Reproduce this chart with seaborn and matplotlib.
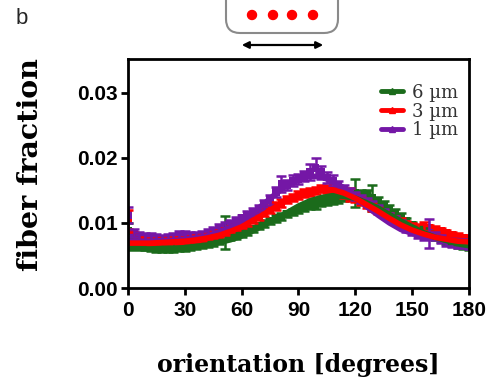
import numpy as np
import pandas as pd
import matplotlib.pyplot as plt
import seaborn as sns
from matplotlib.patches import FancyBboxPatch, Circle, FancyArrowPatch
from matplotlib.lines import Line2D

# orientation bins (degrees)
deg = list(range(0, 181, 3))

frac_6um = [0.0088, 0.0070, 0.0065, 0.0063, 0.0062, 0.0061, 0.0061, 0.0060, 0.0061, 0.0062,
            0.0062, 0.0063, 0.0065, 0.0066, 0.0068, 0.0070, 0.0073, 0.0085, 0.0079, 0.0081,
            0.0084, 0.0087, 0.0091, 0.0095, 0.0099, 0.0103, 0.0107, 0.0110, 0.0114, 0.0117,
            0.0120, 0.0123, 0.0126, 0.0128, 0.0131, 0.0132, 0.0134, 0.0136, 0.0139, 0.0142,
            0.0146, 0.0143, 0.0145, 0.0139, 0.0134, 0.0128, 0.0122, 0.0116, 0.0110, 0.0103,
            0.0097, 0.0091, 0.0087, 0.0083, 0.0079, 0.0075, 0.0072, 0.0069, 0.0067, 0.0065,
            0.0063]
err_6um = [0.0012, 0.0006, 0.0005, 0.0005, 0.0005, 0.0005, 0.0005, 0.0005, 0.0005, 0.0005,
           0.0005, 0.0005, 0.0005, 0.0005, 0.0005, 0.0005, 0.0005, 0.0025, 0.0005, 0.0005,
           0.0005, 0.0005, 0.0005, 0.0005, 0.0005, 0.0005, 0.0006, 0.0005, 0.0005, 0.0005,
           0.0005, 0.0005, 0.0005, 0.0006, 0.0005, 0.0005, 0.0005, 0.0006, 0.0006, 0.0006,
           0.0022, 0.0008, 0.0006, 0.0020, 0.0006, 0.0006, 0.0005, 0.0005, 0.0005, 0.0005,
           0.0005, 0.0005, 0.0005, 0.0005, 0.0005, 0.0005, 0.0005, 0.0005, 0.0005, 0.0005,
           0.0005]

frac_3um = [0.0105, 0.0080, 0.0074, 0.0072, 0.0071, 0.0072, 0.0073, 0.0072, 0.0074, 0.0073,
            0.0074, 0.0075, 0.0076, 0.0078, 0.0080, 0.0082, 0.0084, 0.0087, 0.0091, 0.0094,
            0.0097, 0.0101, 0.0106, 0.0111, 0.0116, 0.0121, 0.0126, 0.0131, 0.0136, 0.0139,
            0.0143, 0.0146, 0.0148, 0.0150, 0.0153, 0.0152, 0.0150, 0.0148, 0.0145, 0.0143,
            0.0138, 0.0134, 0.0129, 0.0124, 0.0119, 0.0115, 0.0110, 0.0106, 0.0102, 0.0098,
            0.0095, 0.0093, 0.0094, 0.0092, 0.0090, 0.0087, 0.0084, 0.0081, 0.0079, 0.0077,
            0.0076]
err_3um = [0.0015, 0.0006, 0.0005, 0.0005, 0.0005, 0.0005, 0.0005, 0.0005, 0.0005, 0.0005,
           0.0005, 0.0005, 0.0005, 0.0005, 0.0005, 0.0005, 0.0005, 0.0005, 0.0005, 0.0005,
           0.0005, 0.0005, 0.0006, 0.0006, 0.0006, 0.0006, 0.0006, 0.0006, 0.0006, 0.0006,
           0.0006, 0.0006, 0.0006, 0.0006, 0.0006, 0.0006, 0.0006, 0.0006, 0.0006, 0.0010,
           0.0006, 0.0006, 0.0006, 0.0006, 0.0005, 0.0005, 0.0005, 0.0005, 0.0005, 0.0005,
           0.0005, 0.0005, 0.0008, 0.0005, 0.0005, 0.0005, 0.0005, 0.0005, 0.0005, 0.0005,
           0.0006]

frac_1um = [0.0112, 0.0085, 0.0080, 0.0079, 0.0078, 0.0077, 0.0076, 0.0077, 0.0079, 0.0081,
            0.0082, 0.0080, 0.0080, 0.0082, 0.0084, 0.0088, 0.0092, 0.0096, 0.0099, 0.0103,
            0.0107, 0.0112, 0.0117, 0.0122, 0.0128, 0.0135, 0.0148, 0.0160, 0.0158, 0.0165,
            0.0168, 0.0172, 0.0178, 0.0185, 0.0178, 0.0170, 0.0165, 0.0158, 0.0152, 0.0148,
            0.0142, 0.0137, 0.0133, 0.0128, 0.0122, 0.0116, 0.0110, 0.0104, 0.0098, 0.0092,
            0.0087, 0.0083, 0.0080, 0.0084, 0.0080, 0.0075, 0.0071, 0.0069, 0.0068, 0.0067,
            0.0066]
err_1um = [0.0012, 0.0006, 0.0006, 0.0006, 0.0006, 0.0006, 0.0006, 0.0006, 0.0006, 0.0006,
           0.0006, 0.0006, 0.0006, 0.0006, 0.0006, 0.0006, 0.0006, 0.0006, 0.0006, 0.0006,
           0.0006, 0.0006, 0.0006, 0.0006, 0.0008, 0.0008, 0.0008, 0.0012, 0.0008, 0.0008,
           0.0008, 0.0008, 0.0012, 0.0015, 0.0010, 0.0008, 0.0008, 0.0006, 0.0006, 0.0006,
           0.0006, 0.0006, 0.0006, 0.0006, 0.0006, 0.0006, 0.0006, 0.0006, 0.0006, 0.0006,
           0.0006, 0.0006, 0.0006, 0.0022, 0.0006, 0.0006, 0.0006, 0.0006, 0.0006, 0.0006,
           0.0006]

# fitted curves
fit_deg = list(range(0, 181, 6))
fit_6um = [0.0060, 0.0060, 0.0060, 0.0061, 0.0061, 0.0062, 0.0064, 0.0066, 0.0070, 0.0074,
           0.0080, 0.0088, 0.0097, 0.0106, 0.0116, 0.0126, 0.0134, 0.0139, 0.0142, 0.0141,
           0.0138, 0.0131, 0.0123, 0.0113, 0.0103, 0.0094, 0.0085, 0.0078, 0.0073, 0.0068,
           0.0065]
fit_3um = [0.0069, 0.0069, 0.0069, 0.0070, 0.0071, 0.0072, 0.0074, 0.0077, 0.0081, 0.0087,
           0.0094, 0.0104, 0.0114, 0.0125, 0.0135, 0.0144, 0.0149, 0.0152, 0.0151, 0.0146,
           0.0138, 0.0128, 0.0118, 0.0107, 0.0097, 0.0089, 0.0083, 0.0078, 0.0075, 0.0072,
           0.0071]
fit_1um = [0.0072, 0.0072, 0.0072, 0.0073, 0.0073, 0.0075, 0.0077, 0.0080, 0.0086, 0.0093,
           0.0104, 0.0116, 0.0130, 0.0145, 0.0158, 0.0167, 0.0172, 0.0171, 0.0164, 0.0154,
           0.0140, 0.0125, 0.0112, 0.0100, 0.0090, 0.0084, 0.0079, 0.0076, 0.0074, 0.0073,
           0.0072]

labels = ['6 µm', '3 µm', '1 µm']
colors = {'6 µm': '#1b6b1b', '3 µm': '#ff0000', '1 µm': '#7417a6'}

df = pd.concat([
    pd.DataFrame({'deg': deg, 'frac': frac_6um, 'err': err_6um, 'size': '6 µm'}),
    pd.DataFrame({'deg': deg, 'frac': frac_3um, 'err': err_3um, 'size': '3 µm'}),
    pd.DataFrame({'deg': deg, 'frac': frac_1um, 'err': err_1um, 'size': '1 µm'}),
])
fits = pd.concat([
    pd.DataFrame({'deg': fit_deg, 'frac': fit_6um, 'size': '6 µm'}),
    pd.DataFrame({'deg': fit_deg, 'frac': fit_3um, 'size': '3 µm'}),
    pd.DataFrame({'deg': fit_deg, 'frac': fit_1um, 'size': '1 µm'}),
])

sns.set_style("ticks")
plt.rcParams['font.family'] = ['Liberation Sans', 'DejaVu Sans']

fig = plt.figure(figsize=(4.96, 3.91), dpi=100)
ax = fig.add_axes([0.258, 0.2634, 0.6876, 0.5856])

for lab in labels:
    sub = df[df['size'] == lab]
    ax.errorbar(sub['deg'], sub['frac'], yerr=sub['err'], fmt='none',
                ecolor=colors[lab], elinewidth=1.8, capsize=3.5, capthick=1.8)
sns.scatterplot(data=df, x='deg', y='frac', hue='size', palette=colors,
                marker='s', s=32, linewidth=0, legend=False, ax=ax)
sns.lineplot(data=fits, x='deg', y='frac', hue='size', palette=colors,
             hue_order=['1 µm', '6 µm', '3 µm'], lw=4, legend=False, ax=ax)

ax.set_xlim(0, 180)
ax.set_ylim(0, 0.0352)
ax.set_xticks([0, 30, 60, 90, 120, 150, 180])
ax.set_yticks([0, 0.01, 0.02, 0.03])
ax.set_yticklabels(['0.00', '0.01', '0.02', '0.03'])
for s in ax.spines.values():
    s.set_linewidth(2)
    s.set_color('black')
ax.tick_params(direction='out', length=5, width=2, labelsize=15, pad=2,
               colors='black')
ax.tick_params(axis='x', pad=4)
for t in ax.get_xticklabels() + ax.get_yticklabels():
    t.set_fontweight('bold')

ax.set_xlabel('orientation [degrees]', family='DejaVu Serif', fontweight='bold',
              fontsize=17, labelpad=24, color='black')
ax.set_ylabel('fiber fraction', family='DejaVu Serif', fontweight='bold',
              fontsize=20.5, color='black', va='center')
ax.yaxis.set_label_coords(-0.287, 0.54)

handles = [Line2D([], [], color=colors[l], lw=3.5, marker='^', markersize=5) for l in labels]
leg = ax.legend(handles, labels, loc='upper right', frameon=False,
                prop={'family': 'DejaVu Serif', 'size': 13},
                handlelength=1.2, handletextpad=0.5, labelspacing=0.05,
                borderaxespad=0.2, bbox_to_anchor=(1.0, 0.94))
for t in leg.get_texts():
    t.set_color('#333333')

# panel letter and schematic above the plot (pixel coordinates)
fig.text(22 / 496, 1 - 18 / 391, 'b', fontsize=16, ha='center', va='center')
H = 391
box = FancyBboxPatch((226, H - 33), 112, 60, boxstyle='round,pad=0,rounding_size=14',
                     transform=None, fc='white', ec='#8a8a8a', lw=1.5, clip_on=False)
fig.add_artist(box)
for cx in [252, 273, 292, 313]:
    fig.add_artist(Circle((cx, H - 15), 4.5, transform=None, color='red'))
fig.add_artist(FancyArrowPatch((239, H - 45), (326, H - 45), transform=None,
                               arrowstyle='<|-|>', mutation_scale=10, lw=1.6, color='black'))

plt.savefig('out.png', dpi=100)
